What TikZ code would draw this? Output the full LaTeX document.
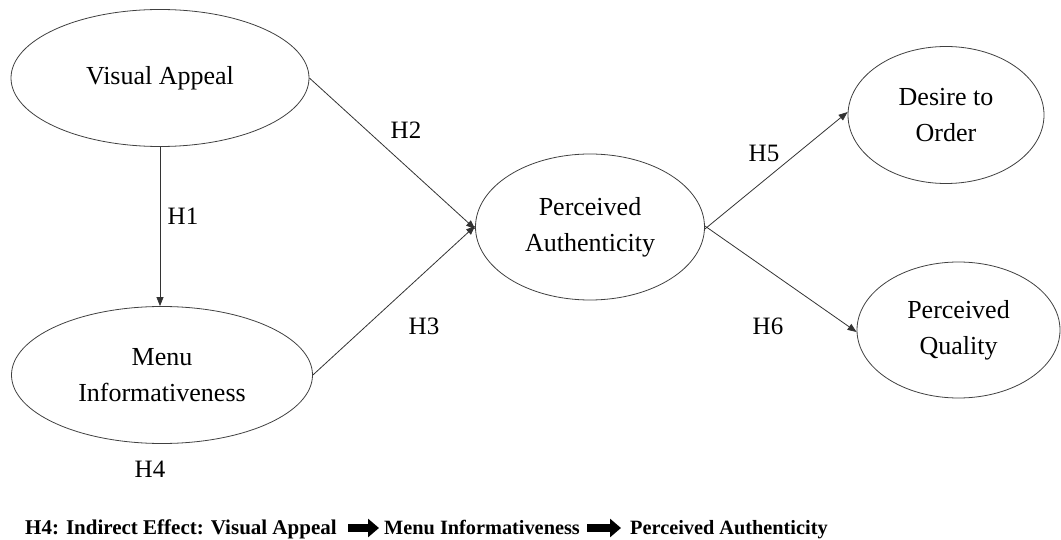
\documentclass[tikz,border=0pt]{standalone}
\usepackage{fontspec}
\setmainfont{Liberation Serif}
\usetikzlibrary{arrows.meta,shapes.geometric}
\tikzset{
  construct/.style={draw=black!75, line width=0.8pt, ellipse, inner sep=0pt, align=center,
    font=\fontsize{26}{36}\selectfont},
  path/.style={draw=black!80, line width=0.8pt, -{Triangle[length=9pt,width=7pt]}},
  hlabel/.style={font=\fontsize{25}{30}\selectfont, inner sep=0pt},
  legendtext/.style={font=\fontsize{20.3}{25}\bfseries\selectfont, inner sep=0pt, anchor=base west},
  fatarrow/.style={draw=black, line width=8pt, -{Triangle[length=11pt,width=18pt]}}
}
\begin{document}
\begin{tikzpicture}[x=1pt,y=-1pt]
\useasboundingbox (0,0) rectangle (1061,540);
% constructs
\node[construct, minimum width=298pt, minimum height=137pt] (va) at (160,78) {Visual Appeal};
\node[construct, minimum width=301pt, minimum height=137pt] (mi) at (162,375) {Menu\\Informativeness};
\node[construct, minimum width=229pt, minimum height=146pt] (pa) at (590,227) {Perceived\\Authenticity};
\node[construct, minimum width=196pt, minimum height=137pt] (dto) at (946,115) {Desire to\\Order};
\node[construct, minimum width=203pt, minimum height=136pt] (pq) at (958.5,330) {Perceived\\Quality};
% paths
\draw[path] (va.south) -- (va.south |- mi.north);
\draw[path] (va.east) -- ([yshift=-2pt]pa.west);
\draw[path] (mi.east) -- ([yshift=1pt]pa.west);
\draw[path] ([yshift=-2pt]pa.east) -- ([yshift=3pt]dto.west);
\draw[path] ([yshift=1pt]pa.east) -- ([yshift=-2pt]pq.west);
% labels
\node[hlabel] (h1) at (183,216) {H1};
\node[hlabel] (h2) at (406,130) {H2};
\node[hlabel] (h3) at (424,326) {H3};
\node[hlabel] (h5) at (764,153) {H5};
\node[hlabel] (h6) at (768,326) {H6};
\node[hlabel] (h4) at (150,469) {H4};
% legend
\node[legendtext, font=\fontsize{21}{25}\bfseries\selectfont] (l1) at (25,534) {H4: Indirect Effect: Visual Appeal};
\node[legendtext] (l2) at (384,534) {Menu Informativeness};
\node[legendtext] (l3) at (630,534) {Perceived Authenticity};
\coordinate (a1s) at (348,528);
\coordinate (a1e) at (379,528);
\coordinate (a2s) at (587,528);
\coordinate (a2e) at (621,528);
\draw[fatarrow] (a1s) -- (a1e);
\draw[fatarrow] (a2s) -- (a2e);
\end{tikzpicture}
\end{document}
